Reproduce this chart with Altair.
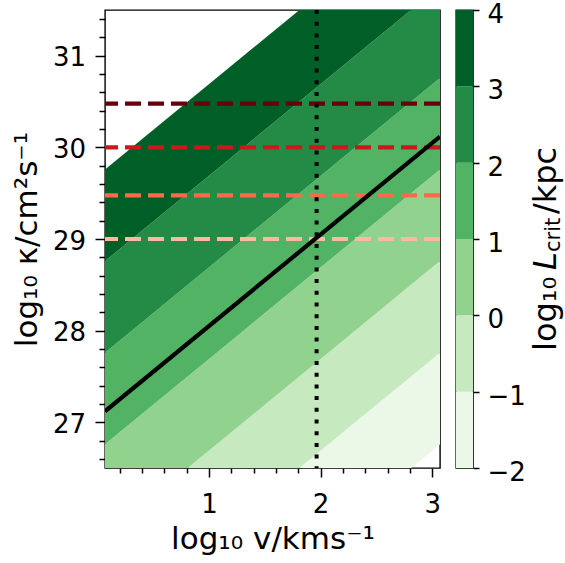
import altair as alt
import pandas as pd

# ---- data ----
X_MIN, X_MAX = 0.069, 3.069          # log10 v range
Y_MIN, Y_MAX = 26.5, 31.5            # log10 kappa range
OFFSET = 25.69                       # log10 L = log10 kappa - log10 v - OFFSET
LEVELS = [-2, -1, 0, 1, 2, 3, 4]
BAND_COLORS = ["#ebf7e7", "#c7e9c0", "#92d28f", "#52b365", "#238b45", "#005f26"]
KAPPA_LINES = [29.0, 29.477, 30.0, 30.477]
KAPPA_COLORS = ["#fcbba1", "#fb6a4a", "#cb181d", "#67000d"]
BLACK_OFFSET = 27.05                 # log10 kappa = log10 v + BLACK_OFFSET
V_MARK = 1.964
X_TICKS = [0.2, 0.4, 0.6, 0.8, 1.0, 1.2, 1.4, 1.6, 1.8, 2.0, 2.2, 2.4, 2.6, 2.8, 3.0]
Y_TICKS = [26.6, 26.8, 27.0, 27.2, 27.4, 27.6, 27.8, 28.0, 28.2, 28.4, 28.6, 28.8,
           29.0, 29.2, 29.4, 29.6, 29.8, 30.0, 30.2, 30.4, 30.6, 30.8, 31.0, 31.2, 31.4]
CB_TICKS = [-2, -1, 0, 1, 2, 3, 4]

FONT = "DejaVu Sans"
TICK_FS = 26
TITLE_FS = 31
CB_TITLE_FS = 32
W, H = 335, 458
CB_W = 17

# ---- tables ----
band_rows = []
for i in range(len(LEVELS) - 1):
    lo, hi = LEVELS[i], LEVELS[i + 1]
    name = f"{lo}..{hi}"
    for xv in (X_MIN, X_MAX):
        band_rows.append({"x": xv, "ylo": xv + OFFSET + lo, "yhi": xv + OFFSET + hi, "band": name})
bands = pd.DataFrame(band_rows)
band_names = [f"{LEVELS[i]}..{LEVELS[i+1]}" for i in range(len(LEVELS) - 1)]

hlines = pd.DataFrame({"y": KAPPA_LINES, "c": KAPPA_COLORS})
black = pd.DataFrame({"x": [X_MIN, X_MAX], "y": [X_MIN + BLACK_OFFSET, X_MAX + BLACK_OFFSET]})
vline = pd.DataFrame({"x": [V_MARK]})

is_major = "abs(datum.value - round(datum.value)) < 0.001"
xs = alt.Scale(domain=[X_MIN, X_MAX], nice=False, zero=False)
ys = alt.Scale(domain=[Y_MIN, Y_MAX], nice=False, zero=False)
xa = alt.Axis(values=X_TICKS, title="log₁₀ v/kms⁻¹",
              labelExpr=f"{is_major} ? format(datum.value, '.0f') : ''",
              tickSize={"condition": {"test": is_major, "value": 9}, "value": 5},
              labelOverlap=False, labelFlush=False, grid=False, domain=False,
              labelPadding=14, titlePadding=7)
ya = alt.Axis(values=Y_TICKS, title="log₁₀ κ/cm²s⁻¹",
              labelExpr=f"{is_major} ? format(datum.value, '.0f') : ''",
              tickSize={"condition": {"test": is_major, "value": 10}, "value": 6},
              labelOverlap=False, labelFlush=False, grid=False, domain=False,
              labelPadding=9.5, labelOffset=2, titlePadding=9)

area = alt.Chart(bands).mark_area(clip=True, strokeWidth=0).encode(
    x=alt.X("x:Q", scale=xs, axis=xa),
    y=alt.Y("ylo:Q", scale=ys, axis=ya),
    y2="yhi:Q",
    color=alt.Color("band:N", scale=alt.Scale(domain=band_names, range=BAND_COLORS), legend=None),
)
dashes = alt.Chart(hlines).mark_rule(strokeDash=[16, 7], strokeWidth=4.2, clip=True).encode(
    y=alt.Y("y:Q", scale=ys, axis=ya),
    color=alt.Color("c:N", scale=None),
)
bline = alt.Chart(black).mark_line(color="black", strokeWidth=4.2, clip=True,
                                   strokeJoin="round").encode(
    x=alt.X("x:Q", scale=xs, axis=xa),
    y=alt.Y("y:Q", scale=ys, axis=ya),
)
dots = alt.Chart(vline).mark_rule(color="black", strokeWidth=4, strokeDash=[4, 7.7],
                                  clip=True).encode(
    x=alt.X("x:Q", scale=xs, axis=xa),
)
main = alt.layer(area, dashes, bline, dots).properties(width=W, height=H)

# ---- colorbar ----
cb = pd.DataFrame({"lo": LEVELS[:-1], "hi": LEVELS[1:], "band": band_names})
cbs = alt.Scale(domain=[LEVELS[0], LEVELS[-1]], nice=False, zero=False)
cba = alt.Axis(values=CB_TICKS, orient="right", title=None, tickSize=6, grid=False,
               domain=False, labelPadding=8, labelOffset=4.5, labelFlush=False, format="d")
cbar = alt.Chart(cb).mark_rect().encode(
    y=alt.Y("lo:Q", scale=cbs, axis=cba),
    y2="hi:Q",
    x=alt.datum(0, scale=alt.Scale(domain=[0, 1]), axis=None),
    x2=alt.datum(1),
    color=alt.Color("band:N", scale=alt.Scale(domain=band_names, range=BAND_COLORS), legend=None),
)

def piece(txt, px, py, fs, style="normal"):
    return alt.Chart(pd.DataFrame({"t": [txt]})).mark_text(
        angle=270, align="left", baseline="alphabetic", font=FONT, fontSize=fs,
        fontStyle=style, color="black").encode(
        text="t:N", x=alt.value(px), y=alt.value(py))

BASE_X = 100
t1 = piece("log₁₀", BASE_X, 341, CB_TITLE_FS)
t2 = piece("L", BASE_X, 260, CB_TITLE_FS, "italic")
t3 = piece("crit", BASE_X + 3.5, 242, 21)
t4 = piece("/kpc", BASE_X, 204, CB_TITLE_FS)
colorbar = alt.layer(cbar, t1, t2, t3, t4).properties(width=CB_W, height=H)

chart = alt.hconcat(main, colorbar, spacing=13).properties(
    padding={"left": 10, "top": 0, "right": 0, "bottom": 0}
).configure_view(stroke="black", strokeWidth=1.4).configure_axis(
    labelFont=FONT, titleFont=FONT, labelFontSize=TICK_FS, titleFontSize=TITLE_FS,
    titleFontWeight="normal", labelColor="black", titleColor="black",
    tickColor="black", tickWidth=1.5,
)

chart.save("out.html", embed_options={"renderer": "svg", "actions": False})
